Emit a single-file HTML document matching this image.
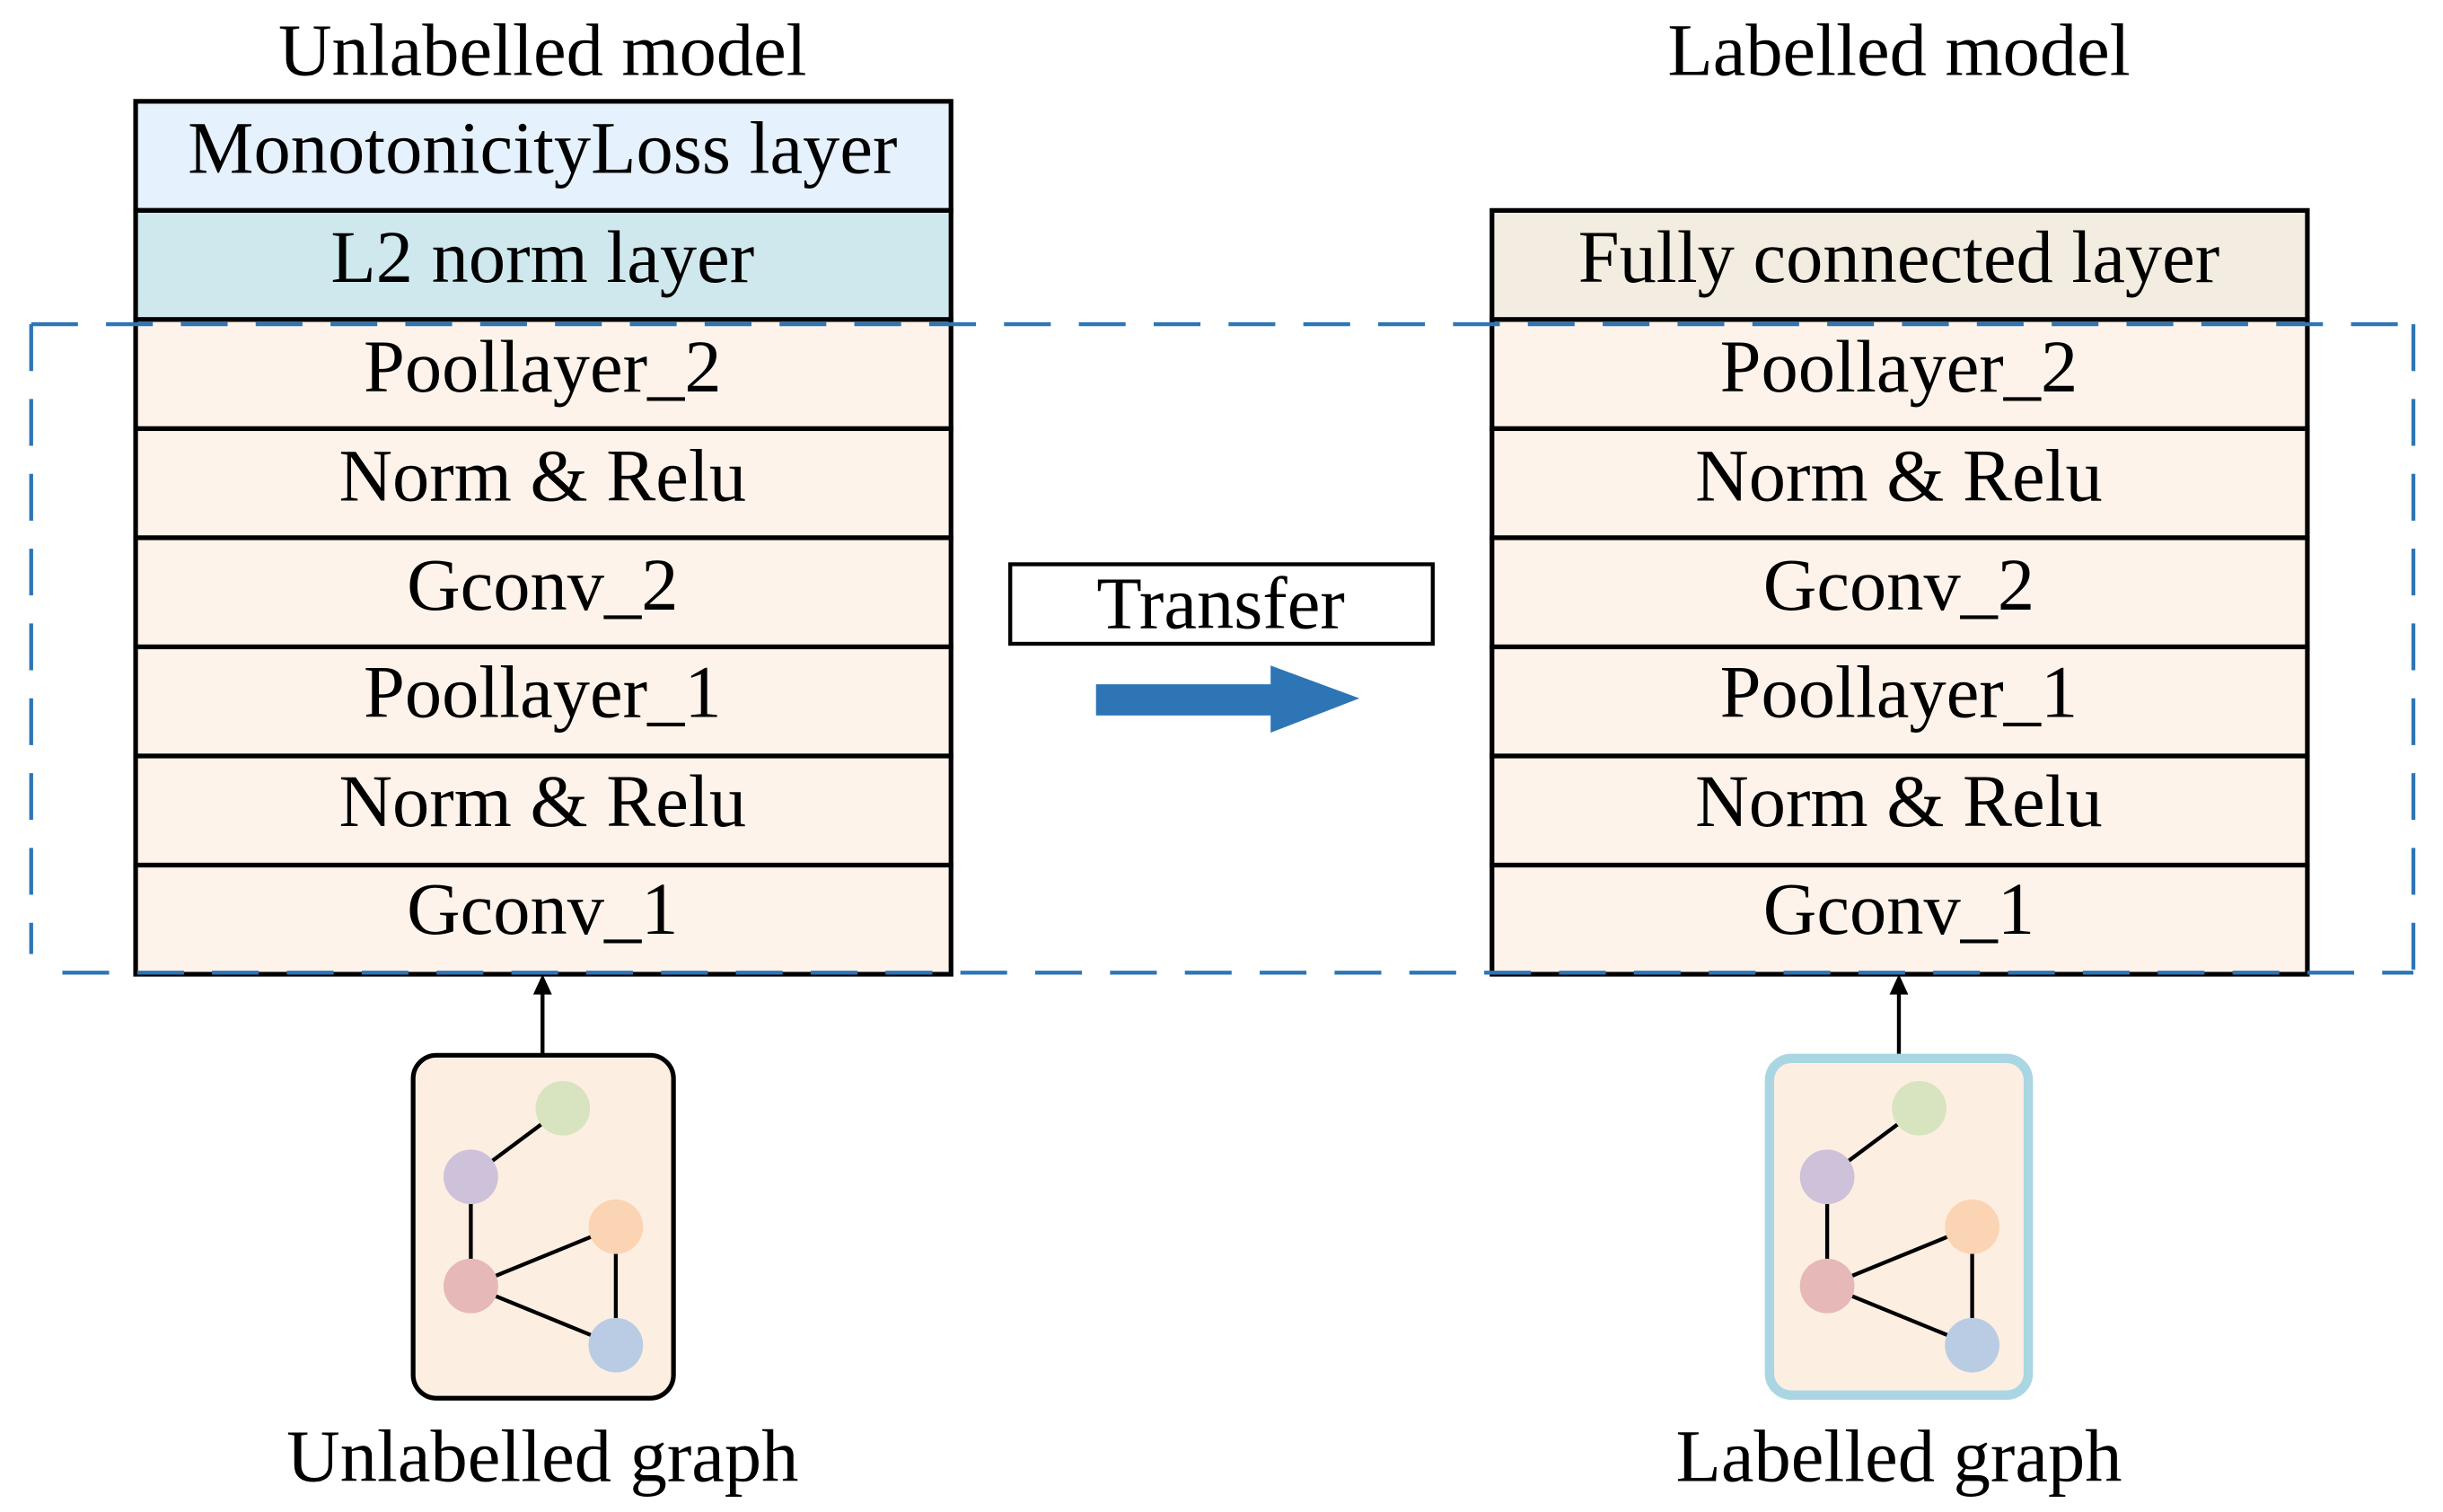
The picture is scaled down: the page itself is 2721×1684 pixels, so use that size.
<!DOCTYPE html>
<html><head><meta charset="utf-8"><style>html,body{margin:0;padding:0;background:#fff}svg{display:block}</style></head>
<body>
<svg width="2721" height="1684" viewBox="0 0 1567 970" preserveAspectRatio="none" xmlns="http://www.w3.org/2000/svg" font-family="Liberation Serif, serif" font-size="47.5" text-anchor="middle">
<defs>
<g id="graph">
<line x1="361" y1="711" x2="302" y2="755" stroke="#000" stroke-width="2.5"/>
<line x1="302" y1="755" x2="302" y2="825" stroke="#000" stroke-width="2.5"/>
<line x1="302" y1="825" x2="395" y2="787" stroke="#000" stroke-width="2.5"/>
<line x1="395" y1="787" x2="395" y2="863" stroke="#000" stroke-width="2.5"/>
<line x1="302" y1="825" x2="395" y2="863" stroke="#000" stroke-width="2.5"/>
<circle cx="361" cy="711" r="17.5" fill="#d8e4c0"/>
<circle cx="302" cy="755" r="17.5" fill="#cec1da"/>
<circle cx="395" cy="787" r="17.5" fill="#fbd4b3"/>
<circle cx="302" cy="825" r="17.5" fill="#e6b8b8"/>
<circle cx="395" cy="863" r="17.5" fill="#b9cce4"/>
</g>
</defs>
<text x="348" y="48">Unlabelled model</text>
<text x="1218" y="48">Labelled model</text>
<g stroke="#000" stroke-width="3">
<rect x="87" y="65" width="523" height="70" fill="#e5f1fc"/>
<rect x="87" y="135" width="523" height="70" fill="#cfe8ed"/>
<rect x="87" y="205" width="523" height="70" fill="#fdf3ea"/>
<rect x="87" y="275" width="523" height="70" fill="#fdf3ea"/>
<rect x="87" y="345" width="523" height="70" fill="#fdf3ea"/>
<rect x="87" y="415" width="523" height="70" fill="#fdf3ea"/>
<rect x="87" y="485" width="523" height="70" fill="#fdf3ea"/>
<rect x="87" y="555" width="523" height="70" fill="#fdf3ea"/>
<rect x="957" y="135" width="523" height="70" fill="#f3ece0"/>
<rect x="957" y="205" width="523" height="70" fill="#fdf3ea"/>
<rect x="957" y="275" width="523" height="70" fill="#fdf3ea"/>
<rect x="957" y="345" width="523" height="70" fill="#fdf3ea"/>
<rect x="957" y="415" width="523" height="70" fill="#fdf3ea"/>
<rect x="957" y="485" width="523" height="70" fill="#fdf3ea"/>
<rect x="957" y="555" width="523" height="70" fill="#fdf3ea"/>
</g>
<g>
<text x="348" y="111">MonotonicityLoss layer</text>
<text x="348" y="181">L2 norm layer</text>
<text x="348" y="251">Poollayer_2</text>
<text x="348" y="321">Norm &amp; Relu</text>
<text x="348" y="391">Gconv_2</text>
<text x="348" y="460">Poollayer_1</text>
<text x="348" y="530">Norm &amp; Relu</text>
<text x="348" y="599">Gconv_1</text>
<text x="1218" y="181">Fully connected layer</text>
<text x="1218" y="251">Poollayer_2</text>
<text x="1218" y="321">Norm &amp; Relu</text>
<text x="1218" y="391">Gconv_2</text>
<text x="1218" y="460">Poollayer_1</text>
<text x="1218" y="530">Norm &amp; Relu</text>
<text x="1218" y="599">Gconv_1</text>
</g>
<g fill="none" stroke="#2e75b6" stroke-width="2.5" stroke-dasharray="30,18">
<line x1="20" y1="208" x2="1548" y2="208"/>
<line x1="40" y1="624" x2="1548" y2="624"/>
<line x1="20" y1="208" x2="20" y2="612"/>
<line x1="1548" y1="208" x2="1548" y2="624"/>
</g>
<rect x="648" y="362" width="271" height="51" fill="#fff" stroke="#000" stroke-width="2.5"/>
<text x="783" y="403">Transfer</text>
<polygon points="703,439 815,439 815,427 872,448 815,470 815,459 703,459" fill="#2e75b6"/>
<g stroke="#000" stroke-width="2.5">
<line x1="348" y1="677" x2="348" y2="635"/>
<line x1="1218" y1="677" x2="1218" y2="635"/>
</g>
<polygon points="348,625 342,638 354,638" fill="#000"/>
<polygon points="1218,625 1212,638 1224,638" fill="#000"/>
<rect x="265" y="677" width="167" height="220" rx="15" fill="#fdeee2" stroke="#000" stroke-width="3"/>
<use href="#graph"/>
<rect x="1135" y="679" width="166" height="216" rx="14" fill="#fdeee2" stroke="#a9d6e2" stroke-width="6"/>
<use href="#graph" transform="translate(870,0)"/>
<text x="348" y="950">Unlabelled graph</text>
<text x="1218" y="950">Labelled graph</text>
</svg>
</body></html>
